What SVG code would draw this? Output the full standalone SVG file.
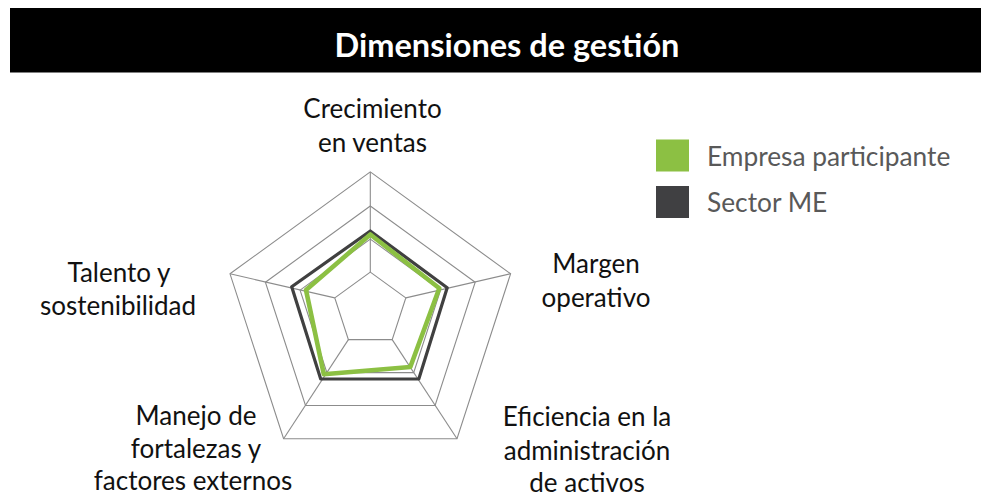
<svg xmlns="http://www.w3.org/2000/svg" width="981" height="497" viewBox="0 0 981 497">
<style>
.grid{fill:none;stroke:#8c8c8c;stroke-width:1.1}
.lbl{font-family:Lato,"Open Sans",sans-serif;font-size:26px;fill:#111;text-anchor:middle}
.leg{font-family:Lato,"Open Sans",sans-serif;font-size:26.3px;fill:#595959}
.title{font-family:Lato,"Open Sans",sans-serif;font-size:32.5px;font-weight:bold;fill:#fff;text-anchor:middle}
</style>
<rect x="0" y="0" width="981" height="497" fill="#fff"/>
<g id="title">
<rect x="10" y="8" width="971" height="64.5" fill="#000"/>
<text class="title" x="507" y="57">Dimensiones de gestión</text>
</g>
<g id="grid">
<polygon class="grid" points="370.3,171.9 510.6,273.8 457,438.7 283.6,438.7 230,273.8"/>
<polygon class="grid" points="370.3,206 475.2,282.2 435.1,405.5 305.5,405.5 265.4,282.2"/>
<polygon class="grid" points="370.3,239.1 440.5,290.1 413.7,372.6 326.9,372.6 300.1,290.1"/>
<polygon class="grid" points="370.3,272.1 405.8,297.9 392.2,339.6 348.4,339.6 334.8,297.9"/>
<line class="grid" x1="370.3" y1="272.1" x2="370.3" y2="171.9"/>
<line class="grid" x1="405.8" y1="297.9" x2="510.6" y2="273.8"/>
<line class="grid" x1="392.2" y1="339.6" x2="457" y2="438.7"/>
<line class="grid" x1="348.4" y1="339.6" x2="283.6" y2="438.7"/>
<line class="grid" x1="334.8" y1="297.9" x2="230" y2="273.8"/>
</g>
<g id="series-sector">
<polygon points="370.3,231 447.2,287.7 418.8,379 320.7,379 291.7,286.7" fill="none" stroke="#404040" stroke-width="3.2" stroke-linejoin="round"/>
</g>
<g id="series-empresa">
<polygon points="370.3,234.5 439.3,288.3 410.3,367 323.8,374.3 306,290" fill="none" stroke="#8cc043" stroke-width="4.6" stroke-linejoin="round"/>
</g>
<g id="axis-crecimiento">
<text class="lbl" x="372.5" y="118">Crecimiento</text>
<text class="lbl" x="372.5" y="152">en ventas</text>
</g>
<g id="axis-margen">
<text class="lbl" x="596" y="273">Margen</text>
<text class="lbl" x="596" y="307">operativo</text>
</g>
<g id="axis-eficiencia">
<text class="lbl" x="587" y="426">Eficiencia en la</text>
<text class="lbl" x="587" y="460">administración</text>
<text class="lbl" x="587" y="492">de activos</text>
</g>
<g id="axis-manejo">
<text class="lbl" x="196" y="425">Manejo de</text>
<text class="lbl" x="196" y="458">fortalezas y</text>
<text class="lbl" x="193" y="490">factores externos</text>
</g>
<g id="axis-talento">
<text class="lbl" x="119" y="282">Talento y</text>
<text class="lbl" x="118" y="315">sostenibilidad</text>
</g>
<g id="legend">
<rect x="656" y="139.5" width="33" height="32" fill="#8cc043"/>
<text class="leg" x="707" y="166">Empresa participante</text>
<rect x="656" y="186" width="33" height="32" fill="#404042"/>
<text class="leg" x="707" y="212">Sector ME</text>
</g>
</svg>
